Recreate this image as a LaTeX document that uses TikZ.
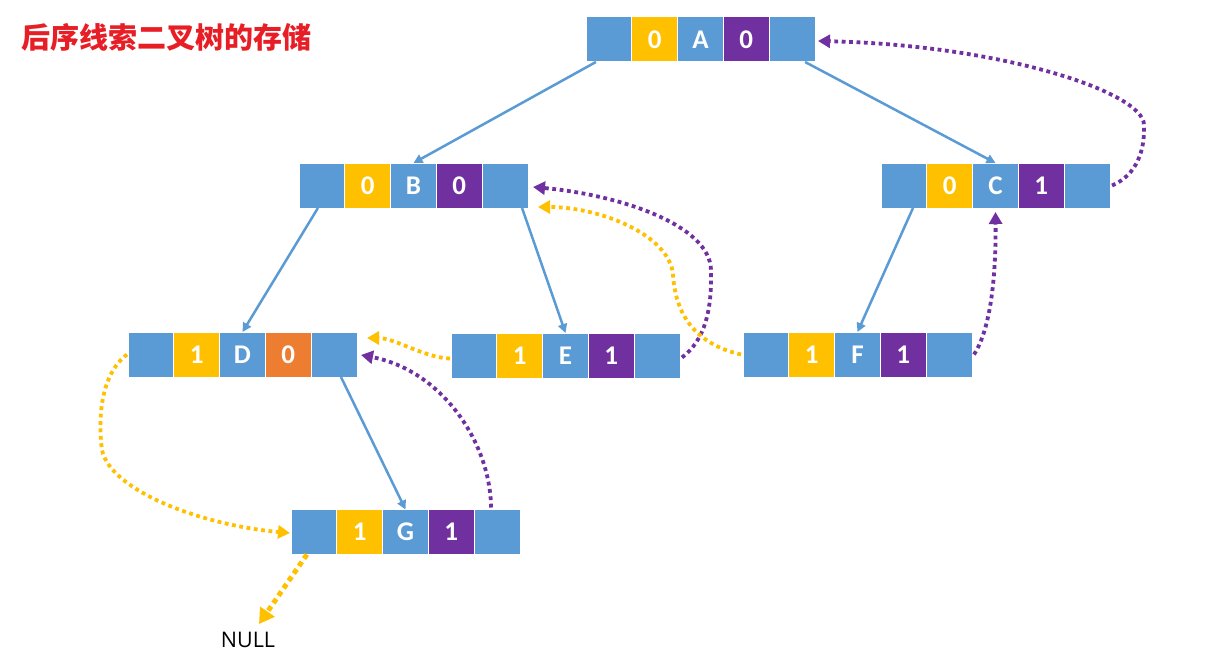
\documentclass[tikz,border=0pt]{standalone}
\usepackage{fontspec}
\setmainfont{Carlito}
\newfontfamily\cjk{Noto Sans CJK SC}
\newfontfamily\nulltextfont{Open Sans}
\usetikzlibrary{arrows.meta}
\definecolor{cblue}{RGB}{91,155,213}
\definecolor{cyel}{RGB}{255,192,0}
\definecolor{cpur}{RGB}{112,48,160}
\definecolor{cora}{RGB}{237,125,49}
\definecolor{cred}{RGB}{232,30,38}
\tikzset{
  cell/.style={draw=white,line width=1pt,minimum width=45.8pt,minimum height=45pt,inner sep=0pt,outer sep=0pt,
    text=white,font=\fontsize{27}{27}\selectfont\bfseries},
  treeedge/.style={draw=cblue,line width=2.5pt,-{Triangle[length=9pt,width=9pt]}},
  thread/.style={line width=3.8pt,dash pattern=on 3.8pt off 3.6pt,-{Triangle[length=12pt,width=13pt]}},
  pthread/.style={thread,draw=cpur,color=cpur},
  ythread/.style={thread,draw=cyel,color=cyel},
}
\newcommand{\mkrec}[7]{%
  \node[cell,fill=cblue,anchor=west] (#1-1) at (#2) {};
  \node[cell,fill=#4,anchor=west] (#1-2) at (#1-1.east) {#3};
  \node[cell,fill=cblue,anchor=west] (#1-3) at (#1-2.east) {#5};
  \node[cell,fill=#7,anchor=west] (#1-4) at (#1-3.east) {#6};
  \node[cell,fill=cblue,anchor=west] (#1-5) at (#1-4.east) {};
}
\begin{document}
\begin{tikzpicture}[x=1pt,y=-1pt]
\useasboundingbox[fill=white] (0,0) rectangle (1226,658);
\node[anchor=west,inner sep=0pt,text=cred,font=\cjk\bfseries\fontsize{29}{29}\selectfont] (title) at (21,37) {后序线索二叉树的存储};
\mkrec{A}{586,39.5}{0}{cyel}{A}{0}{cpur}
\mkrec{B}{299,185.5}{0}{cyel}{B}{0}{cpur}
\mkrec{C}{881,185.5}{0}{cyel}{C}{1}{cpur}
\mkrec{D}{128,354.5}{1}{cyel}{D}{0}{cora}
\mkrec{E}{451,355.5}{1}{cyel}{E}{1}{cpur}
\mkrec{F}{743,354.5}{1}{cyel}{F}{1}{cpur}
\mkrec{G}{291,532}{1}{cyel}{G}{1}{cpur}
% tree edges
\draw[treeedge] (A-1.-120) -- (B-3.north);
\draw[treeedge] (A-5.-60) -- (C-3.north);
\draw[treeedge] (B-1.-100) -- (D-3.north);
\draw[treeedge] (B-5.-53) -- (E-3.north);
\draw[treeedge] (C-1.-68) -- (F-3.north);
\draw[treeedge] (D-5.-73) -- (G-3.north);
% threads
\draw[pthread] ([xshift=2pt]C-5.east) .. controls (1137,175) and (1145,150) .. (1144,125)
   .. controls (1144,92) and (1000,45) .. ([xshift=3pt,yshift=-1.5pt]A-5.east);
\draw[pthread] ([xshift=2pt,yshift=-2pt]E-5.east) .. controls (705,340) and (712,310) .. (711,270)
   .. controls (710,225) and (620,195) .. ([xshift=5pt,yshift=-1.5pt]B-5.east);
\draw[ythread] ([xshift=-2pt]F-1.west) .. controls (700,345) and (676,320) .. (673,275)
   .. controls (670,235) and (600,207) .. ([xshift=10pt,yshift=-21.5pt]B-5.east);
\draw[pthread] ([xshift=2pt]F-5.east) .. controls (990,330) and (996,280) .. ([yshift=-4pt]C-3.south);
\draw[ythread] ([xshift=-1pt,yshift=-3pt]E-1.west) .. controls (425,358) and (395,338) .. ([xshift=10pt,yshift=16.5pt]D-5.east);
\draw[pthread] ([xshift=-6pt,yshift=2pt]G-5.north) .. controls (490,440) and (440,370) .. ([xshift=4pt,yshift=-0.5pt]D-5.east);
\draw[ythread] ([xshift=-1pt]D-1.west) .. controls (100,375) and (98,420) .. (102,450)
   .. controls (110,490) and (200,525) .. ([xshift=-1pt,yshift=-1pt]G-1.west);
\node[inner sep=0pt,font=\nulltextfont\fontsize{21.5}{21.5}\selectfont] (null) at (248,640) {NULL};
\coordinate (nulltip) at (259,624);
\draw[cyel,line width=5pt,dash pattern=on 5pt off 4pt,-{Triangle[length=15pt,width=17pt]}] ([xshift=-7pt]G-1.south) -- (nulltip);
\end{tikzpicture}
\end{document}
